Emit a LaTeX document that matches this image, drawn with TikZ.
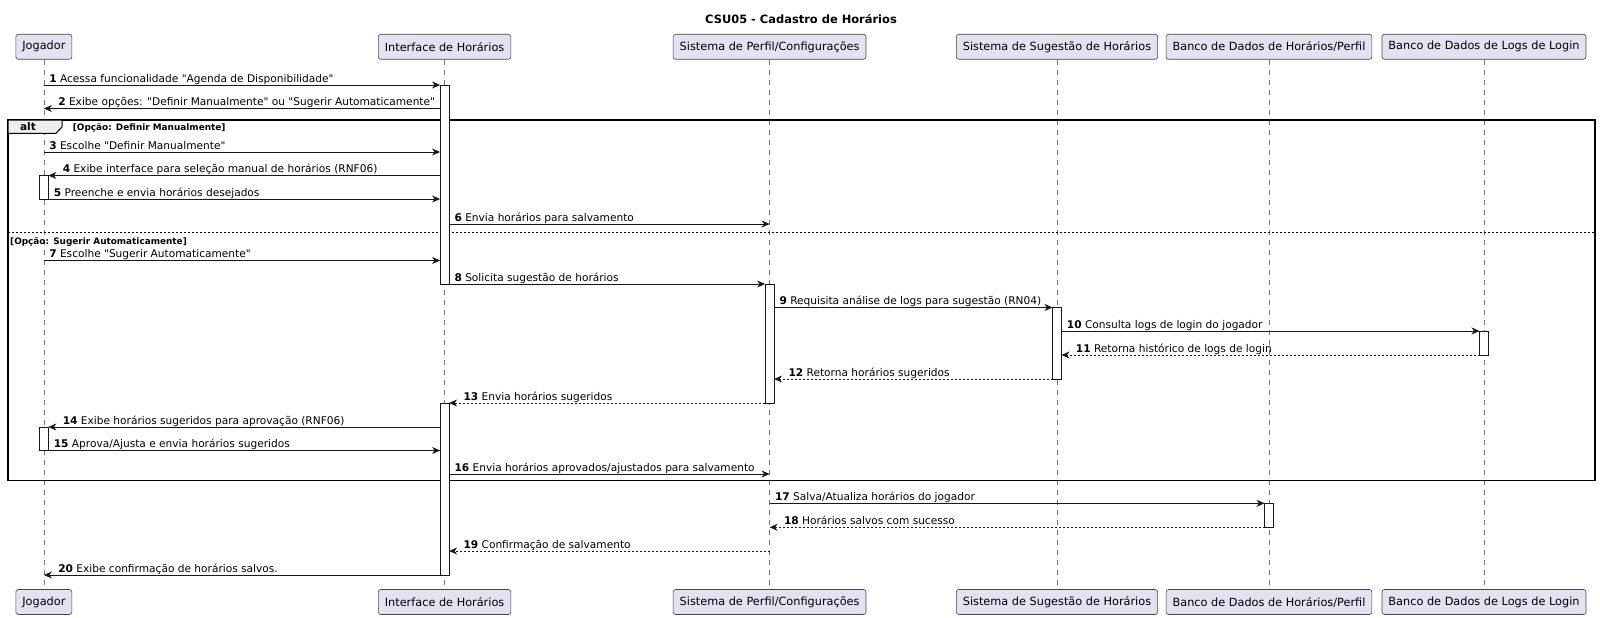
\documentclass[tikz,border=0pt]{standalone}
\usepackage{fontspec}
\setmainfont{DejaVu Sans}
\usetikzlibrary{positioning, arrows.meta, calc}

\definecolor{partfill}{HTML}{E2E2F0}
\definecolor{umlline}{HTML}{181818}
\definecolor{tabfill}{HTML}{EEEEEE}

\begin{document}
\begin{tikzpicture}[
    x=1pt, y=-1pt,
    >={Stealth[length=8pt,width=7pt,inset=2.5pt]},
    part/.style={draw=umlline!80, fill=partfill, rounded corners=2.5pt, line width=0.6pt, minimum height=25pt, inner xsep=6.5pt, font=\fontsize{11.3}{13}\selectfont},
    lifeline/.style={draw=umlline!60, line width=0.7pt, dash pattern=on 5pt off 5pt},
    actbar/.style={draw=umlline, fill=white, line width=0.8pt},
    msg/.style={->, draw=umlline, line width=0.8pt},
    ret/.style={msg, dash pattern=on 2pt off 2pt},
    lbl/.style={anchor=base west, inner sep=0pt, yshift=3pt, font=\fontsize{10.6}{12}\selectfont},
    lr/.style={lbl, pos=0, xshift=5pt},
    rl/.style={lbl, pos=1, xshift=14pt},
    guard/.style={anchor=west, inner sep=0pt, font=\bfseries\fontsize{8.9}{10}\selectfont},
]
\useasboundingbox (0,0) rectangle (1600,618);

\node[font=\bfseries\fontsize{11.45}{13}\selectfont] (title) at (801,19) {CSU05 - Cadastro de Horários};

\node[part] (jog) at (43.9,46.8) {Jogador};
\node[part] (intf) at (444.6,46.8) {Interface de Horários};
\node[part] (perf) at (769.6,46.8) {Sistema de Perfil/Configurações};
\node[part] (sug) at (1057,46.8) {Sistema de Sugestão de Horários};
\node[part] (bdh) at (1269,46.8) {Banco de Dados de Horários/Perfil};
\node[part] (bdl) at (1484,46.8) {Banco de Dados de Logs de Login};

\node[part] (jogB) at (jog |- 0,602) {Jogador};
\node[part] (intfB) at (intf |- 0,602) {Interface de Horários};
\node[part] (perfB) at (perf |- 0,602) {Sistema de Perfil/Configurações};
\node[part] (sugB) at (sug |- 0,602) {Sistema de Sugestão de Horários};
\node[part] (bdhB) at (bdh |- 0,602) {Banco de Dados de Horários/Perfil};
\node[part] (bdlB) at (bdl |- 0,602) {Banco de Dados de Logs de Login};

\draw[lifeline] (jog) -- (jogB);
\draw[lifeline] (intf) -- (intfB);
\draw[lifeline] (perf) -- (perfB);
\draw[lifeline] (sug) -- (sugB);
\draw[lifeline] (bdh) -- (bdhB);
\draw[lifeline] (bdl) -- (bdlB);

\draw[line width=1.5pt] (8,120) rectangle (1595,480.7);
\draw[line width=1pt, fill=tabfill] (8,120) -- (62,120) -- (62,127) -- (56,133.3) -- (8,133.3) -- cycle;
\node[font=\bfseries\fontsize{10.5}{12}\selectfont, inner sep=0pt] (alt) at (28,126.8) {alt};
\node[guard] (g1) at (72.7,127.5) {[Opção: Definir Manualmente]};
\draw[line width=0.8pt, dash pattern=on 2pt off 2pt] (8,232) -- (1595,232);
\node[guard] (g2) at (10,241.5) {[Opção: Sugerir Automaticamente]};

\draw[actbar] ($(intf |- 0,85)+(-4.5,0)$) rectangle ($(intf |- 0,284)+(4.5,0)$);
\draw[actbar] ($(intf |- 0,403)+(-4.5,0)$) rectangle ($(intf |- 0,575)+(4.5,0)$);
\draw[actbar] ($(jog |- 0,175.5)+(-4.5,0)$) rectangle ($(jog |- 0,199)+(4.5,0)$);
\draw[actbar] ($(jog |- 0,427)+(-4.5,0)$) rectangle ($(jog |- 0,450.5)+(4.5,0)$);
\draw[actbar] ($(perf |- 0,284)+(-4.5,0)$) rectangle ($(perf |- 0,403)+(4.5,0)$);
\draw[actbar] ($(sug |- 0,307.5)+(-4.5,0)$) rectangle ($(sug |- 0,379)+(4.5,0)$);
\draw[actbar] ($(bdl |- 0,331)+(-4.5,0)$) rectangle ($(bdl |- 0,355)+(4.5,0)$);
\draw[actbar] ($(bdh |- 0,503.3)+(-4.5,0)$) rectangle ($(bdh |- 0,527.3)+(4.5,0)$);

\draw[msg] (jog |- 0,85) -- ($(intf |- 0,85)+(-4.5,0)$) node[lr] {\textbf{1} Acessa funcionalidade \textquotedbl Agenda de Disponibilidade\textquotedbl};
\draw[msg] ($(intf |- 0,108.5)+(-4.5,0)$) -- (jog |- 0,108.5) node[rl] {\textbf{2} Exibe opções: \textquotedbl Definir Manualmente\textquotedbl{} ou \textquotedbl Sugerir Automaticamente\textquotedbl};
\draw[msg] (jog |- 0,152) -- ($(intf |- 0,152)+(-4.5,0)$) node[lr] {\textbf{3} Escolhe \textquotedbl Definir Manualmente\textquotedbl};
\draw[msg] ($(intf |- 0,175.5)+(-4.5,0)$) -- ($(jog |- 0,175.5)+(4.5,0)$) node[rl] {\textbf{4} Exibe interface para seleção manual de horários (RNF06)};
\draw[msg] ($(jog |- 0,199)+(4.5,0)$) -- ($(intf |- 0,199)+(-4.5,0)$) node[lr] {\textbf{5} Preenche e envia horários desejados};
\draw[msg] ($(intf |- 0,224)+(4.5,0)$) -- (perf |- 0,224) node[lr] {\textbf{6} Envia horários para salvamento};
\draw[msg] (jog |- 0,260.5) -- ($(intf |- 0,260.5)+(-4.5,0)$) node[lr] {\textbf{7} Escolhe \textquotedbl Sugerir Automaticamente\textquotedbl};
\draw[msg] ($(intf |- 0,284)+(4.5,0)$) -- ($(perf |- 0,284)+(-4.5,0)$) node[lr] {\textbf{8} Solicita sugestão de horários};
\draw[msg] ($(perf |- 0,307.5)+(4.5,0)$) -- ($(sug |- 0,307.5)+(-4.5,0)$) node[lr] {\textbf{9} Requisita análise de logs para sugestão (RN04)};
\draw[msg] ($(sug |- 0,331)+(4.5,0)$) -- ($(bdl |- 0,331)+(-4.5,0)$) node[lr] {\textbf{10} Consulta logs de login do jogador};
\draw[ret] ($(bdl |- 0,355)+(-4.5,0)$) -- ($(sug |- 0,355)+(4.5,0)$) node[rl] {\textbf{11} Retorna histórico de logs de login};
\draw[ret] ($(sug |- 0,379)+(-4.5,0)$) -- ($(perf |- 0,379)+(4.5,0)$) node[rl] {\textbf{12} Retorna horários sugeridos};
\draw[ret] ($(perf |- 0,403)+(-4.5,0)$) -- ($(intf |- 0,403)+(4.5,0)$) node[rl] {\textbf{13} Envia horários sugeridos};
\draw[msg] ($(intf |- 0,427)+(-4.5,0)$) -- ($(jog |- 0,427)+(4.5,0)$) node[rl] {\textbf{14} Exibe horários sugeridos para aprovação (RNF06)};
\draw[msg] ($(jog |- 0,450.5)+(4.5,0)$) -- ($(intf |- 0,450.5)+(-4.5,0)$) node[lr] {\textbf{15} Aprova/Ajusta e envia horários sugeridos};
\draw[msg] ($(intf |- 0,474)+(4.5,0)$) -- (perf |- 0,474) node[lr] {\textbf{16} Envia horários aprovados/ajustados para salvamento};
\draw[msg] (perf |- 0,503.3) -- ($(bdh |- 0,503.3)+(-4.5,0)$) node[lr] {\textbf{17} Salva/Atualiza horários do jogador};
\draw[ret] ($(bdh |- 0,527.3)+(-4.5,0)$) -- (perf |- 0,527.3) node[rl] {\textbf{18} Horários salvos com sucesso};
\draw[ret] (perf |- 0,551) -- ($(intf |- 0,551)+(4.5,0)$) node[rl] {\textbf{19} Confirmação de salvamento};
\draw[msg] ($(intf |- 0,575)+(-4.5,0)$) -- (jog |- 0,575) node[rl] {\textbf{20} Exibe confirmação de horários salvos.};
\end{tikzpicture}
\end{document}
